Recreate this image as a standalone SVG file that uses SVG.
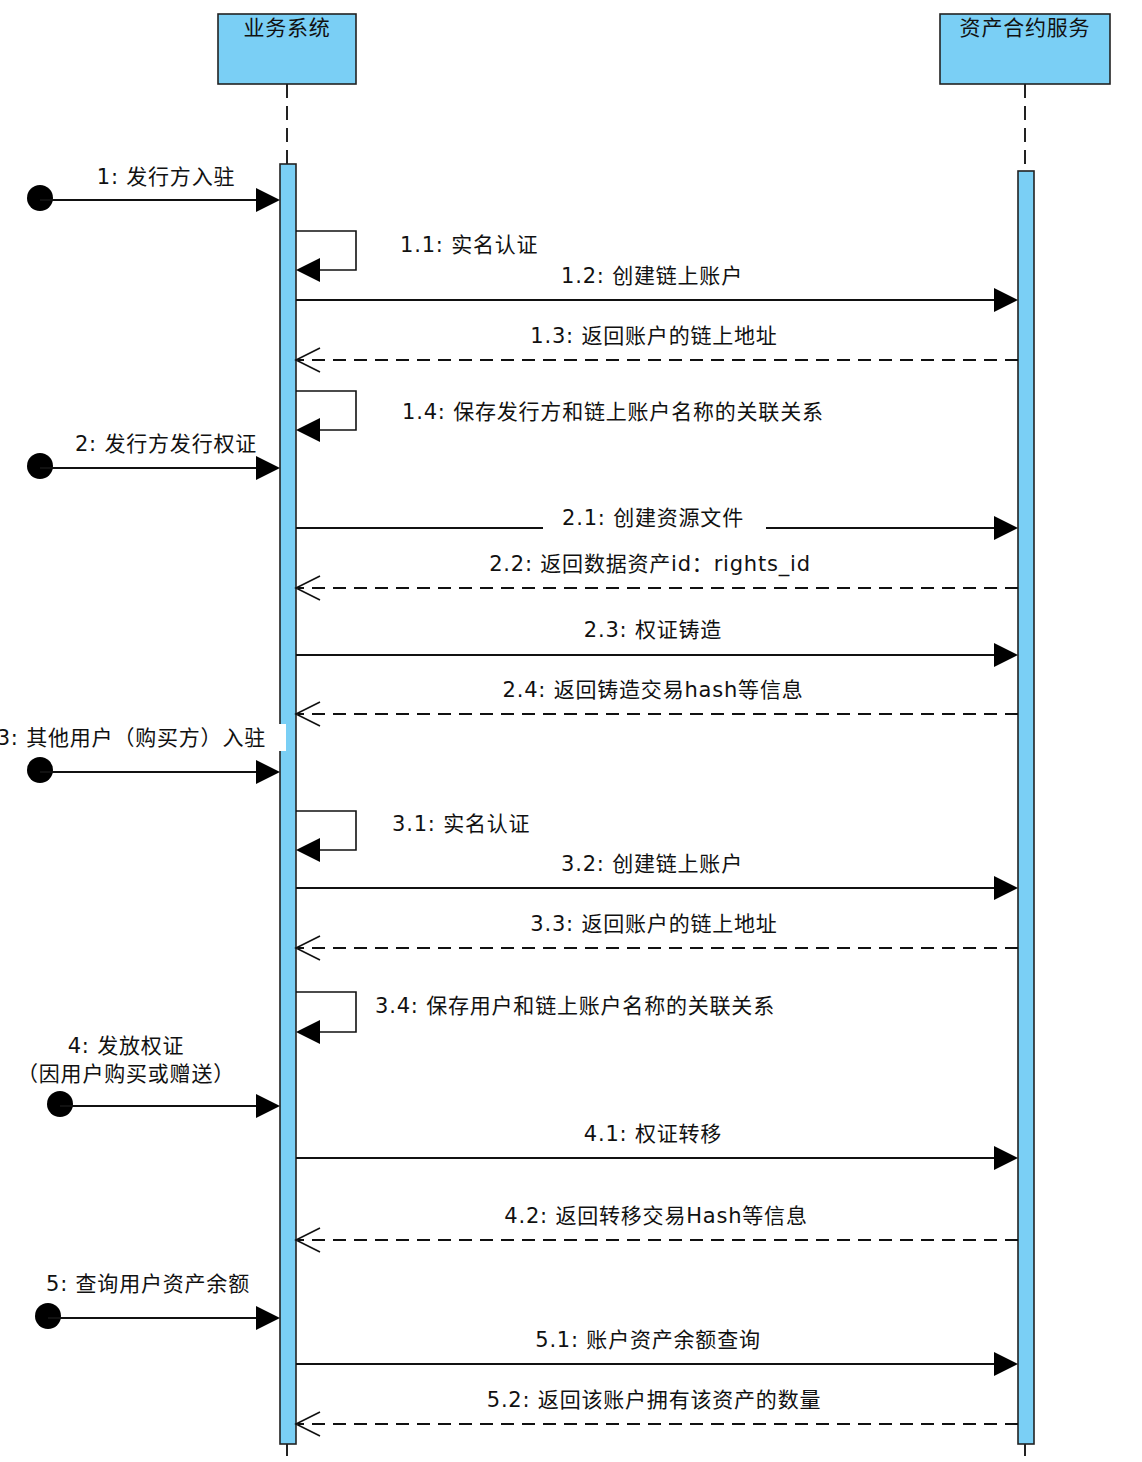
<svg xmlns="http://www.w3.org/2000/svg" width="1142" height="1462" viewBox="0 0 1142 1462">
<style>
text{font-family:"DejaVu Sans","Noto Sans CJK SC",sans-serif;font-size:21px;letter-spacing:0.8px;fill:#111}
.m{text-anchor:middle}
.e{text-anchor:end}
.box{fill:#7ACFF5;stroke:#222;stroke-width:1.6}
.act{fill:#7ACFF5;stroke:#222;stroke-width:1.6}
.life{stroke:#222;stroke-width:2;stroke-dasharray:14 8;fill:none}
.sol{stroke:#111;stroke-width:2;fill:none}
.dsh{stroke:#111;stroke-width:2;fill:none;stroke-dasharray:13 8}
.loop{stroke:#111;stroke-width:1.6;fill:none}
.hd{fill:#000}
.open{stroke:#111;stroke-width:1.6;fill:none}
</style>
<defs>
<path id="fr" d="M0,0 L-24,-12 L-24,12 Z" class="hd"/>
<path id="fl" d="M0,0 L24,-12 L24,12 Z" class="hd"/>
<path id="ol" d="M24,-12 L0,0 L24,12" class="open"/>
</defs>
<rect width="1142" height="1462" fill="#fff"/>

<g id="lifelines">
<line class="life" x1="287" y1="84" x2="287" y2="164"/>
<line class="life" x1="287" y1="1444" x2="287" y2="1456"/>
<line class="life" x1="1025" y1="84" x2="1025" y2="171"/>
<line class="life" x1="1025" y1="1444" x2="1025" y2="1456"/>
</g>

<g id="node-business">
<rect class="box" x="218" y="14" width="138" height="70"/>
<text class="m" x="287" y="35">业务系统</text>
<rect class="act" x="280" y="164" width="16" height="1280"/>
</g>
<g id="node-asset">
<rect class="box" x="940" y="14" width="170" height="70"/>
<text class="m" x="1025" y="35">资产合约服务</text>
<rect class="act" x="1018" y="171" width="16" height="1273"/>
</g>

<g id="connectors">
<!-- 1 -->
<circle cx="40" cy="198" r="13" fill="#000"/>
<line class="sol" x1="40" y1="200" x2="262" y2="200"/>
<use href="#fr" x="280" y="200"/>
<text class="m" x="166" y="184">1: 发行方入驻</text>
<!-- 1.1 -->
<polyline class="loop" points="296,231 356,231 356,270 310,270"/>
<use href="#fl" x="296" y="270"/>
<text x="400" y="252">1.1: 实名认证</text>
<!-- 1.2 -->
<line class="sol" x1="296" y1="300" x2="1000" y2="300"/>
<use href="#fr" x="1018" y="300"/>
<text class="m" x="652" y="283">1.2: 创建链上账户</text>
<!-- 1.3 -->
<line class="dsh" x1="1018" y1="360" x2="298" y2="360"/>
<use href="#ol" x="296" y="360"/>
<text class="m" x="654" y="343">1.3: 返回账户的链上地址</text>
<!-- 1.4 -->
<polyline class="loop" points="296,391 356,391 356,430 310,430"/>
<use href="#fl" x="296" y="430"/>
<text x="402" y="419">1.4: 保存发行方和链上账户名称的关联关系</text>
<!-- 2 -->
<circle cx="40" cy="466" r="13" fill="#000"/>
<line class="sol" x1="40" y1="468" x2="262" y2="468"/>
<use href="#fr" x="280" y="468"/>
<text class="m" x="166" y="451">2: 发行方发行权证</text>
<!-- 2.1 -->
<line class="sol" x1="296" y1="528" x2="543" y2="528"/>
<line class="sol" x1="766" y1="528" x2="1000" y2="528"/>
<use href="#fr" x="1018" y="528"/>
<text class="m" x="653" y="525">2.1: 创建资源文件</text>
<!-- 2.2 -->
<line class="dsh" x1="1018" y1="588" x2="298" y2="588"/>
<use href="#ol" x="296" y="588"/>
<text class="m" x="650" y="571">2.2: 返回数据资产id：rights_id</text>
<!-- 2.3 -->
<line class="sol" x1="296" y1="655" x2="1000" y2="655"/>
<use href="#fr" x="1018" y="655"/>
<text class="m" x="653" y="637">2.3: 权证铸造</text>
<!-- 2.4 -->
<line class="dsh" x1="1018" y1="714" x2="298" y2="714"/>
<use href="#ol" x="296" y="714"/>
<text class="m" x="653" y="697">2.4: 返回铸造交易hash等信息</text>
<!-- 3 -->
<rect x="0" y="724" width="286" height="27" fill="#fff"/>
<text class="e" x="266" y="745">3: 其他用户（购买方）入驻</text>
<circle cx="40" cy="770" r="13" fill="#000"/>
<line class="sol" x1="40" y1="772" x2="262" y2="772"/>
<use href="#fr" x="280" y="772"/>
<!-- 3.1 -->
<polyline class="loop" points="296,811 356,811 356,850 310,850"/>
<use href="#fl" x="296" y="850"/>
<text x="392" y="831">3.1: 实名认证</text>
<!-- 3.2 -->
<line class="sol" x1="296" y1="888" x2="1000" y2="888"/>
<use href="#fr" x="1018" y="888"/>
<text class="m" x="652" y="871">3.2: 创建链上账户</text>
<!-- 3.3 -->
<line class="dsh" x1="1018" y1="948" x2="298" y2="948"/>
<use href="#ol" x="296" y="948"/>
<text class="m" x="654" y="931">3.3: 返回账户的链上地址</text>
<!-- 3.4 -->
<polyline class="loop" points="296,992 356,992 356,1032 310,1032"/>
<use href="#fl" x="296" y="1032"/>
<text x="375" y="1013">3.4: 保存用户和链上账户名称的关联关系</text>
<!-- 4 -->
<text class="m" x="126" y="1053">4: 发放权证</text>
<text class="m" x="126" y="1081">（因用户购买或赠送）</text>
<circle cx="60" cy="1104" r="13" fill="#000"/>
<line class="sol" x1="60" y1="1106" x2="262" y2="1106"/>
<use href="#fr" x="280" y="1106"/>
<!-- 4.1 -->
<line class="sol" x1="296" y1="1158" x2="1000" y2="1158"/>
<use href="#fr" x="1018" y="1158"/>
<text class="m" x="653" y="1141">4.1: 权证转移</text>
<!-- 4.2 -->
<line class="dsh" x1="1018" y1="1240" x2="298" y2="1240"/>
<use href="#ol" x="296" y="1240"/>
<text class="m" x="656" y="1223">4.2: 返回转移交易Hash等信息</text>
<!-- 5 -->
<text class="m" x="148" y="1291">5: 查询用户资产余额</text>
<circle cx="48" cy="1316" r="13" fill="#000"/>
<line class="sol" x1="48" y1="1318" x2="262" y2="1318"/>
<use href="#fr" x="280" y="1318"/>
<!-- 5.1 -->
<line class="sol" x1="296" y1="1364" x2="1000" y2="1364"/>
<use href="#fr" x="1018" y="1364"/>
<text class="m" x="648" y="1347">5.1: 账户资产余额查询</text>
<!-- 5.2 -->
<line class="dsh" x1="1018" y1="1424" x2="298" y2="1424"/>
<use href="#ol" x="296" y="1424"/>
<text class="m" x="654" y="1407">5.2: 返回该账户拥有该资产的数量</text>
</g>
</svg>
